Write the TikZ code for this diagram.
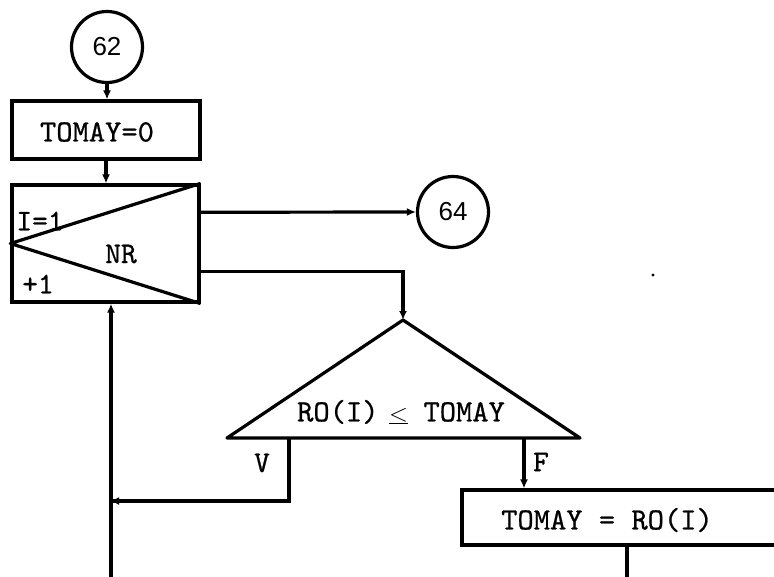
\documentclass[tikz,border=0pt]{standalone}
\usepackage{fontspec}
\newfontfamily\twfont{lmmono10-regular}[Extension=.otf, FakeBold=0.7]
\newfontfamily\circfont{Liberation Sans}
\usetikzlibrary{arrows.meta,calc}
\begin{document}
\begin{tikzpicture}[x=1pt,y=-1pt,
  every node/.style={font=\twfont\fontsize{31}{33}\selectfont, inner sep=0pt},
  ln/.style={line width=3.2pt},
  arr/.style={ln,-{Latex[length=9pt,width=8pt]}},
  boxn/.style={draw, line width=3.2pt},
  conn/.style={draw, circle, line width=3.2pt, minimum size=71pt, font=\circfont\fontsize{26}{28}\selectfont},
  lbl/.style={font=\twfont\fontsize{30}{32}\selectfont}]
\useasboundingbox (0,0) rectangle (774,576);
% connectors
\node[conn] (c62) at (107,47) {62};
\node[conn] (c64) at (453,212) {64};
% boxes
\node[boxn, minimum width=188pt, minimum height=58pt] (init) at (106,130) {};
\node (initt) at (97,132) {TOMAY=0};
\node[boxn, minimum width=187pt, minimum height=117pt] (loop) at (105.5,243.5) {};
\draw[ln, line join=round] (loop.north east) -- (loop.west) -- (loop.south east);
\node[lbl] (li) at (40,221) {I=1};
\node[lbl] (lnr) at (121,254) {NR};
\node[lbl] (linc) at (38,284) {+1};
% decision triangle
\coordinate (apex) at (403,320);
\coordinate (bl) at (227,438);
\coordinate (br) at (580,438);
\draw[ln, line join=round] (apex) -- (bl) -- (br) -- cycle;
\node (cond) at (401,412) {RO(I)\hspace{0.25em}\makebox[0.8em]{$\underline{<}$}\hspace{0.4em}TOMAY};
% assignment box
\node[boxn, minimum width=324pt, minimum height=55pt] (asg) at (624,517.5) {};
\node (asgt) at (607,520) {TOMAY = RO(I)};
% coordinates
\coordinate (vout) at (289,438);
\coordinate (fout) at (524,438);
\coordinate (ret) at (111,501);
\coordinate (bottomL) at (111,580);
\coordinate (bottomR) at (627,580);
\coordinate (lo1) at ($(loop.north east)!0.24!(loop.south east)$);
\coordinate (lo2) at ($(loop.north east)!0.73!(loop.south east)$);
% flow lines
\draw[arr] (c62.south) -- (init.north -| c62.south);
\draw[arr] (init.south) -- (loop.north -| init.south);
\draw[arr] (lo1) -- (c64.west);
\draw[arr] (lo2) -| (apex);
\draw[ln] (vout) |- (ret);
\draw[arr] ($(ret)+(2,0)$) -- ($(ret)+(-1,0)$);
\draw[arr] (bottomL) -- (bottomL |- loop.south);
\draw[arr] (fout) -- (fout |- asg.north);
\draw[ln] (asg.south -| bottomR) -- (bottomR);
\node[lbl] (lv) at (262,463) {V};
\node[lbl] (lf) at (541,462) {F};
\fill (653,275) circle (1.6);
\end{tikzpicture}
\end{document}
